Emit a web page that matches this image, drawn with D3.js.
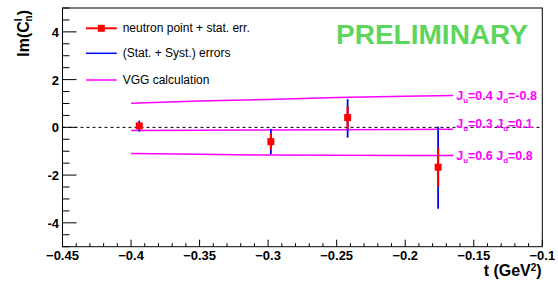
<!DOCTYPE html>
<html>
<head>
<meta charset="utf-8">
<script src="https://cdn.jsdelivr.net/npm/d3@7"></script>
<style>
  body { margin: 0; background: #fff; }
  svg { display: block; font-family: "Liberation Sans", Arial, sans-serif; }
</style>
</head>
<body>
<div id="chart"></div>
<script>
// neutron points
var tVals = [-0.394, -0.298, -0.242, -0.176];
var imVals = [0.06, -0.60, 0.41, -1.67];
var statLo = [-0.06, -0.95, -0.07, -2.48];
var statHi = [0.16, -0.25, 0.87, -0.85];
var totLo = [-0.18, -1.12, -0.43, -3.41];
var totHi = [0.28, -0.07, 1.18, 0.03];

// VGG curves
var vggT = [-0.40, -0.35, -0.30, -0.25, -0.20, -0.165];
var vggA = [1.01, 1.10, 1.17, 1.25, 1.30, 1.33];
var vggB = [-0.13, -0.12, -0.11, -0.10, -0.09, -0.08];
var vggC = [-1.10, -1.13, -1.16, -1.17, -1.18, -1.18];
var vggLabels = [
  {ju: "0.4", jd: "-0.8"},
  {ju: "0.3", jd: "0.1"},
  {ju: "0.6", jd: "0.8"}
];

var legendItems = ["neutron point + stat. err.", "(Stat. + Syst.) errors", "VGG calculation"];

var W = 558, H = 289;
var x0 = 62.5, x1 = 542.3, y0 = 8, y1 = 246.7;
var MAG = "#ff00ff";

var svg = d3.select("#chart").append("svg").attr("width", W).attr("height", H);

var x = d3.scaleLinear().domain([-0.45, -0.1]).range([x0, x1]);
var y = d3.scaleLinear().domain([-5, 5]).range([y1, y0]);

// frame
svg.append("rect").attr("x", x0).attr("y", y0).attr("width", x1 - x0).attr("height", y1 - y0)
  .attr("fill", "none").attr("stroke", "#000").attr("stroke-width", 1);

// x ticks (inside, upward)
var xMinor = d3.range(-0.45, -0.0999, 0.01);
svg.append("g").selectAll("line").data(xMinor).join("line")
  .attr("x1", d => x(d)).attr("x2", d => x(d))
  .attr("y1", y1).attr("y2", (d, i) => y1 - (i % 5 === 0 ? 7 : 3.5))
  .attr("stroke", "#000").attr("stroke-width", 1);
var xMajor = d3.range(-0.45, -0.0999, 0.05);
svg.append("g").selectAll("text").data(xMajor).join("text")
  .attr("x", d => x(d)).attr("y", 259.5)
  .attr("text-anchor", "middle").attr("font-size", 13).attr("font-weight", "bold")
  .text(d => d3.format(".2~f")(d));

// y ticks (inside, rightward)
var yMinor = d3.range(-5, 5.001, 0.5);
svg.append("g").selectAll("line").data(yMinor).join("line")
  .attr("y1", d => y(d)).attr("y2", d => y(d))
  .attr("x1", x0).attr("x2", d => x0 + (Math.abs(d % 2) < 1e-9 ? 14 : 7))
  .attr("stroke", "#000").attr("stroke-width", 1);
svg.append("g").selectAll("text").data([-4, -2, 0, 2, 4]).join("text")
  .attr("x", 59).attr("y", d => y(d) + 5)
  .attr("text-anchor", "end").attr("font-size", 13).attr("font-weight", "bold")
  .text(d => d);

// axis titles
svg.append("text").attr("x", 541.7).attr("y", 276).attr("text-anchor", "end")
  .attr("font-size", 16).attr("font-weight", "bold")
  .html('t (GeV<tspan dy="-5" font-size="10">2</tspan><tspan dy="5">)</tspan>');
var yt = svg.append("text").attr("transform", "translate(29,10) rotate(-90)")
  .attr("text-anchor", "end").attr("font-size", 16).attr("font-weight", "bold");
yt.append("tspan").text("Im(C");
yt.append("tspan").attr("dy", -7).attr("font-size", 10).text("I");
yt.append("tspan").attr("dx", -3).attr("dy", 10).attr("font-size", 10).text("n");
yt.append("tspan").attr("dy", -3).text(")");

// zero line
svg.append("line").attr("x1", x0).attr("x2", x1).attr("y1", y(0)).attr("y2", y(0))
  .attr("stroke", "#000").attr("stroke-width", 1).attr("stroke-dasharray", "3,3");

// VGG curves
var line = d3.line().x((d, i) => x(vggT[i])).y(d => y(d));
[vggA, vggB, vggC].forEach(function (c, k) {
  svg.append("path").attr("d", line(c)).attr("fill", "none")
    .attr("stroke", MAG).attr("stroke-width", 1.5);
  var lab = svg.append("text").attr("x", x(vggT[vggT.length - 1]) + 3)
    .attr("y", y(c[c.length - 1]) + 4 - (k === 1 ? 5 : 0))
    .attr("font-size", 12.5).attr("font-weight", "bold").attr("fill", MAG);
  lab.append("tspan").text("J");
  lab.append("tspan").attr("dy", 3).attr("font-size", 8).text("u");
  lab.append("tspan").attr("dy", -3).text("=" + vggLabels[k].ju + " J");
  lab.append("tspan").attr("dy", 3).attr("font-size", 8).text("d");
  lab.append("tspan").attr("dy", -3).text("=" + vggLabels[k].jd);
});

// error bars
var pts = d3.range(tVals.length);
svg.append("g").selectAll("line").data(pts).join("line")
  .attr("x1", i => x(tVals[i])).attr("x2", i => x(tVals[i]))
  .attr("y1", i => y(totLo[i])).attr("y2", i => y(totHi[i]))
  .attr("stroke", "#0000ff").attr("stroke-width", 1.8);
svg.append("g").selectAll("line").data(pts).join("line")
  .attr("x1", i => x(tVals[i])).attr("x2", i => x(tVals[i]))
  .attr("y1", i => y(statLo[i])).attr("y2", i => y(statHi[i]))
  .attr("stroke", "#ff0000").attr("stroke-width", 2.2);
svg.append("g").selectAll("rect").data(pts).join("rect")
  .attr("x", i => x(tVals[i]) - 3.5).attr("y", i => y(imVals[i]) - 3.5)
  .attr("width", 7).attr("height", 7).attr("fill", "#ff0000");

// legend
var lg = svg.append("g");
var ly = [28.3, 53.3, 80];
var lcol = ["#ff0000", "#0000ff", MAG];
legendItems.forEach(function (t, i) {
  lg.append("line").attr("x1", 86).attr("x2", 116.7).attr("y1", ly[i]).attr("y2", ly[i])
    .attr("stroke", lcol[i]).attr("stroke-width", i === 0 ? 2 : 1.5);
  if (i === 0) lg.append("rect").attr("x", 101.3 - 3.5).attr("y", ly[i] - 3.5)
    .attr("width", 7).attr("height", 7).attr("fill", "#ff0000");
  lg.append("text").attr("x", 122.7).attr("y", ly[i] + 4).attr("font-size", 12).text(t);
});

// preliminary
svg.append("text").attr("x", 336).attr("y", 44.3).attr("font-size", 27)
  .attr("textLength", 192).attr("lengthAdjust", "spacingAndGlyphs")
  .attr("font-weight", "bold").attr("fill", "#5cd65c").text("PRELIMINARY");
</script>
</body>
</html>
